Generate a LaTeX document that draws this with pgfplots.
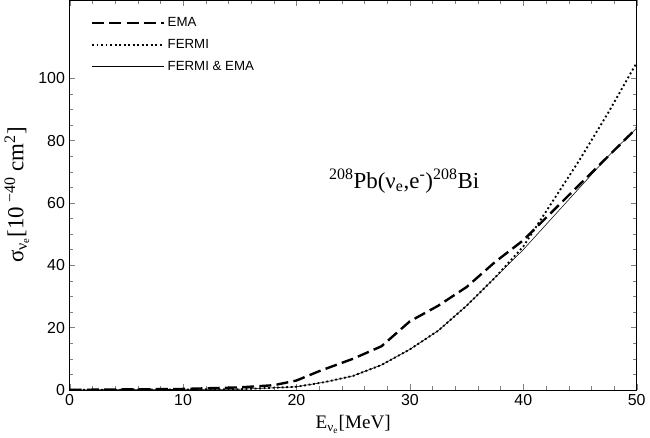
\documentclass[border=0pt]{standalone}
\usepackage{fontspec}
\setmainfont{Liberation Sans}
\newfontfamily\tms{Liberation Serif}
\usepackage{pgfplots}
\pgfplotsset{compat=1.18}
\begin{document}
\begin{tikzpicture}
\begin{axis}[
  width=16.6cm, height=11.9cm,
  xmin=0,xmax=50,ymin=0,ymax=125,
  xtick={0,10,...,50}, ytick={0,20,...,100},
  minor x tick num=4, minor y tick num=3,
  tick align=inside, xtick pos=both, ytick pos=both,
  /pgf/number format/assume math mode=true,
  tick label style={font=\large},
  xlabel={\tms\Large E\textsubscript{ν\textsubscript{e}}[MeV]},
  ylabel={\tms\LARGE σ\textsubscript{ν\textsubscript{e}}[10\textsuperscript{ −40} cm\textsuperscript{2}]},
  legend style={draw=none,fill=none,at={(0.03,0.97)},anchor=north west,font=\normalsize,row sep=4pt},
  legend cell align=left,
  legend image code/.code={\draw[#1](0cm,0cm)--(1.9cm,0cm);},
]
\addplot[black,line width=1.8pt,dash pattern=on 9pt off 4pt] coordinates {(0,0)(10,0.3)(15,0.8)(18,1.5)(20,3)(22,6)(25,10)(27.5,14)(30,22)(32.5,27)(35,33)(37.5,41)(40,48)(42.5,57)(45,66)(47.5,75)(50,84)};
\addlegendentry{EMA}
\addplot[black,line width=1.4pt,dotted] coordinates {(0,0)(15,0.2)(20,1)(22.5,2.5)(25,4.5)(27.5,8)(30,13)(32.5,19)(35,27)(37.5,36)(40,46)(42.5,60)(45,74)(47.5,89)(50,105)};
\addlegendentry{FERMI}
\addplot[black,thin] coordinates {(0,0)(15,0.2)(20,1)(22.5,2.5)(25,4.5)(27.5,8)(30,13)(32.5,19)(35,27)(37.5,36)(40,45)(42,53)(45,65)(47.5,75)(50,84)};
\addlegendentry{FERMI \& EMA}
\node[font=\tms\LARGE] at (axis cs:29.5,67) {\textsuperscript{208}Pb(ν\textsubscript{e},e\textsuperscript{-})\textsuperscript{208}Bi};
\end{axis}
\end{tikzpicture}
\end{document}
